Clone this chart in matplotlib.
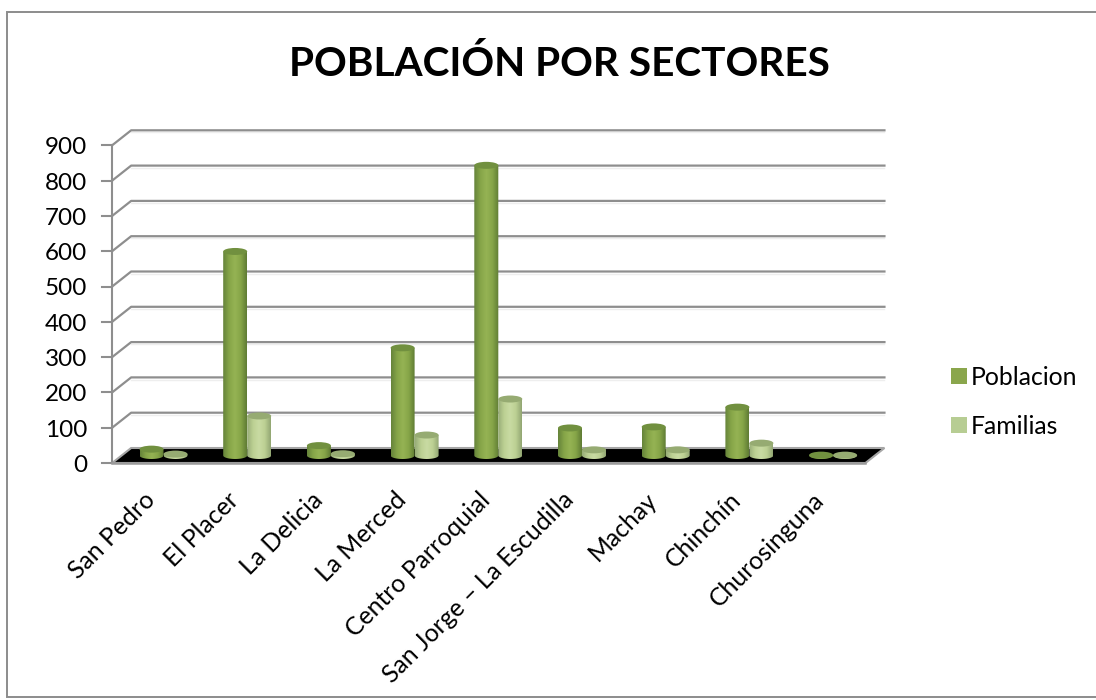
import matplotlib
matplotlib.use("Agg")
import matplotlib.pyplot as plt
import numpy as np
from matplotlib.colors import LinearSegmentedColormap
from matplotlib.patches import Ellipse, Patch, PathPatch, Polygon, Rectangle
from matplotlib.path import Path

plt.rcParams['font.family'] = ['Lato', 'DejaVu Sans']

sectores = ['San Pedro', 'El Placer', 'La Delicia', 'La Merced', 'Centro Parroquial',
            'San Jorge \u2013 La Escudilla', 'Machay', 'Chinch\u00edn', 'Churosinguna']
poblacion = [18, 578, 28, 305, 822, 78, 81, 137, 1]
familias = [4, 112, 5, 58, 160, 16, 16, 35, 1]
yticks = [0, 100, 200, 300, 400, 500, 600, 700, 800, 900]

# one axes over the whole figure, x in categories, y in people
W, H = 1096, 700
PX_X = 83.7      # px per category
PX_Y = 0.353     # px per unit
X0 = 163.5 - 9.5 # px of category 0 on the front plane
Y0 = 463         # px of value 0 on the front plane
dx = 19 / PX_X   # depth of the floor
dy = 15 / PX_Y

fig = plt.figure(figsize=(W / 100, H / 100), dpi=100)
ax = fig.add_axes([0, 0, 1, 1])
xlim = (-X0 / PX_X, (W - X0) / PX_X)
ylim = ((Y0 - H) / PX_Y, Y0 / PX_Y)
ax.axis('off')

ax.add_patch(Rectangle((0.0065, 0.004), 0.9935 + 0.01, 0.979, transform=ax.transAxes,
                       fc='white', ec='#8c8c8c', lw=1.4))

left = -0.5
right = 8.5
grey = '#8e8e8e'

# floor
ax.add_patch(Polygon([(left, 0), (left + dx, dy), (right + dx, dy), (right, 0)],
                     closed=True, fc='black', ec='#a6a6a6', lw=1.5, zorder=2))

# grid, shadow line first
tick_len = 10 / PX_X
for v in yticks[1:]:
    ax.plot([left + dx, right + dx], [v + dy - 6, v + dy - 6], color='#eeeeee', lw=1.0, zorder=1)
for v in yticks:
    ax.plot([left - tick_len, left], [v, v], color=grey, lw=1.5, zorder=3)
    if v > 0:
        ax.plot([left, left + dx, right + dx], [v, v + dy, v + dy], color=grey, lw=1.6, zorder=1.5)
ax.plot([left, left], [0, 900], color=grey, lw=1.5, zorder=3)
ax.plot([left, right], [0, 0], color='#9a9a9a', lw=1.8, zorder=3)

cmap_pob = LinearSegmentedColormap.from_list('pob', ['#65833a', '#86a548', '#95b354', '#86a548', '#5f7c34'])
cmap_fam = LinearSegmentedColormap.from_list('fam', ['#98ad78', '#bcd093', '#c9dba3', '#bcd093', '#92a673'])
grad = np.linspace(0, 1, 64).reshape(1, -1)

bar_w = 24 / PX_X
ell_h = 7 / PX_Y


def cylinder(xc, yb, val, cmap, top_color, z):
    # body with rounded bottom, filled by a horizontal gradient
    t = np.linspace(np.pi, 2 * np.pi, 30)
    xs = xc + bar_w / 2 * np.cos(t)
    ys = yb + ell_h / 2 * np.sin(t)
    verts = np.column_stack([xs, ys])
    verts = np.vstack([verts, [xc + bar_w / 2, yb + val], [xc - bar_w / 2, yb + val], verts[0]])
    clip = PathPatch(Path(verts), transform=ax.transData, fc='none', ec='none')
    ax.add_patch(clip)
    im = ax.imshow(grad, cmap=cmap, aspect='auto', zorder=z, interpolation='bilinear',
                   extent=(xc - bar_w / 2, xc + bar_w / 2, yb - ell_h, yb + val + ell_h))
    im.set_clip_path(clip)
    ax.add_patch(Ellipse((xc, yb + val), bar_w, ell_h, fc=top_color, ec='none', zorder=z + 0.1))


for i in range(len(sectores)):
    xc = i + dx / 2
    cylinder(xc - bar_w / 2, dy / 2, poblacion[i], cmap_pob, '#71903f', 4)
    cylinder(xc + bar_w / 2, dy / 2, familias[i], cmap_fam, '#96ab72', 5)

ax.set_xlim(xlim)
ax.set_ylim(ylim)

# labels
for v in yticks:
    ax.text(left - 25 / PX_X, v - 7, str(v), ha='right', va='center', fontsize=17.5, color='black')
for i, name in enumerate(sectores):
    ax.text(i + 0.06 - 16 / PX_X, -25 / PX_Y, name, rotation=45, rotation_mode='anchor', ha='right', va='top',
            fontsize=17.8, color='black')

ax.text(559 / W, 1 - 64 / H, 'POBLACI\u00d3N POR SECTORES', transform=ax.transAxes, ha='center',
        va='center', fontsize=29.2, fontweight='bold', color='black')

handles = [Patch(fc='#8aa64c', ec='none', label='Poblacion'),
           Patch(fc='#b7cd93', ec='none', label='Familias')]
ax.legend(handles=handles, loc='center left', bbox_to_anchor=(929 / W, 1 - 402 / H), frameon=False,
          fontsize=17.8, handlelength=0.62, handleheight=0.62, handletextpad=0.16, labelspacing=1.05)

fig.savefig('out.png', dpi=100)
